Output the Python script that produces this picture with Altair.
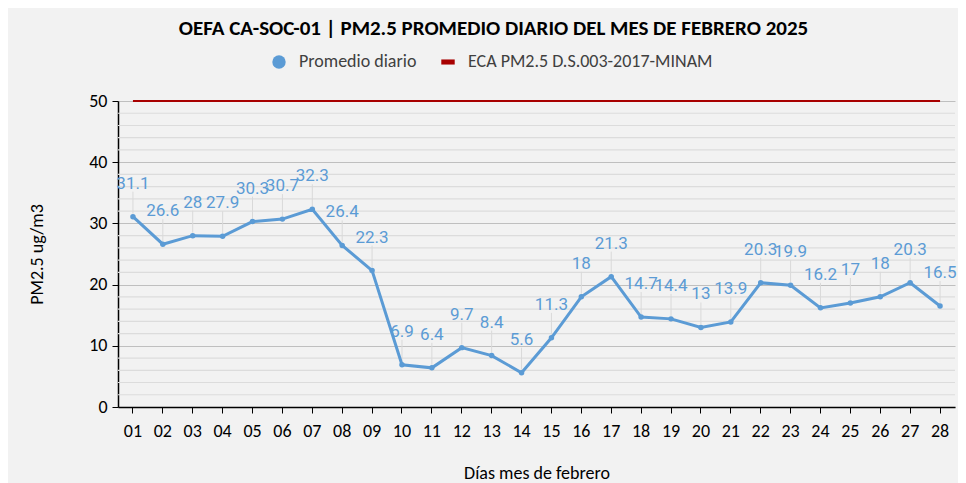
import altair as alt
import pandas as pd

dias = ["01", "02", "03", "04", "05", "06", "07", "08", "09", "10", "11", "12", "13", "14",
        "15", "16", "17", "18", "19", "20", "21", "22", "23", "24", "25", "26", "27", "28"]
promedio = [31.1, 26.6, 28, 27.9, 30.3, 30.7, 32.3, 26.4, 22.3, 6.9, 6.4, 9.7, 8.4, 5.6,
            11.3, 18, 21.3, 14.7, 14.4, 13, 13.9, 20.3, 19.9, 16.2, 17, 18, 20.3, 16.5]
eca = [50] * 28
series = ["Promedio diario", "ECA PM2.5 D.S.003-2017-MINAM"]
minor_grid = [2, 4, 6, 8, 12, 14, 16, 18, 22, 24, 26, 28, 32, 34, 36, 38, 42, 44, 46, 48]
major_ticks = [0, 10, 20, 30, 40, 50]

BLUE = "#5b9bd5"
RED = "#a80000"
FONT = "Carlito, Lato"

df = pd.DataFrame({
    "dia": dias * 2,
    "valor": promedio + eca,
    "serie": [series[0]] * len(dias) + [series[1]] * len(dias),
})
df_prom = df[df["serie"] == series[0]]
df_eca = df[df["serie"] == series[1]]
df_minor = pd.DataFrame({"v": minor_grid})

x = alt.X("dia:O", scale=alt.Scale(type="band", paddingInner=0, paddingOuter=0),
          axis=alt.Axis(title="Días mes de febrero", labelAngle=0, domainColor="#000000",
                        tickColor="#000000", tickSize=6, labelPadding=9,
                        labelFontSize=18, labelColor="#000000", labelFont=FONT,
                        titleFont=FONT, titleFontSize=18, titleFontWeight="normal",
                        titleColor="#000000", titlePadding=24, grid=False, domainWidth=1.5))
yscale = alt.Scale(domain=[0, 50], nice=False, zero=True)
y = alt.Y("valor:Q", scale=yscale,
          axis=alt.Axis(title="PM2.5 ug/m3", values=major_ticks, domainColor="#000000",
                        tickColor="#000000", tickSize=6, labelPadding=5, labelFontSize=18,
                        labelColor="#000000", labelFont=FONT, titleFont=FONT, titleFontSize=18,
                        titleFontWeight="normal", titleColor="#000000", titleX=-72, titleY=153,
                        grid=True, gridColor="#bfbfbf", gridWidth=1.2, domainWidth=1.5))

color_scale = alt.Scale(domain=series, range=[BLUE, RED])
shape_scale = alt.Scale(domain=series, range=["circle", "M-1,-0.38H1V0.38H-1Z"])

minor = alt.Chart(df_minor).mark_rule(color="#dcdcdc", strokeWidth=1.2).encode(
    y=alt.Y("v:Q", scale=yscale)
)

eca_line = alt.Chart(df_eca).mark_line(strokeWidth=2, color=RED).encode(x=x, y=y)

prom_line = alt.Chart(df_prom).mark_line(strokeWidth=3, color=BLUE).encode(x=x, y=y)

leaders = alt.Chart(df_prom).mark_rule(color="#d9d9d9", strokeWidth=1, y2Offset=-25, yOffset=-3).encode(
    x=x, y=y, y2=alt.Y2("valor:Q")
)

points = alt.Chart(df_prom).mark_point(filled=True, size=30, opacity=1).encode(
    x=x, y=y,
    color=alt.Color("serie:N", scale=color_scale,
                    legend=alt.Legend(title=None, orient="none", direction="horizontal",
                                      legendX=152, legendY=-48, symbolSize=180,
                                      symbolStrokeWidth=0, labelFont=FONT, labelFontSize=18,
                                      labelColor="#404040", columnPadding=22, labelOffset=11,
                                      labelLimit=400)),
    shape=alt.Shape("serie:N", scale=shape_scale),
)

labels = alt.Chart(df_prom).mark_text(dy=-33, fontSize=17, font="Roboto", color=BLUE,
                                      baseline="middle").encode(
    x=x, y=y, text=alt.Text("valor:Q")
)

chart = alt.layer(minor, leaders, eca_line, prom_line, points, labels).properties(
    width=837, height=306,
    title=alt.Title("OEFA CA-SOC-01 | PM2.5 PROMEDIO DIARIO DEL MES DE FEBRERO 2025",
                    font=FONT, fontSize=21, fontWeight="bold", color="#000000", offset=14,
                    dx=-43),
    autosize=alt.AutoSizeParams(type="none"),
    padding={"left": 110, "top": 93, "right": 3, "bottom": 76},
    background="#f2f2f2",
).configure_view(stroke=None)

chart.save("out.html", embed_options={"renderer": "svg", "actions": False})
